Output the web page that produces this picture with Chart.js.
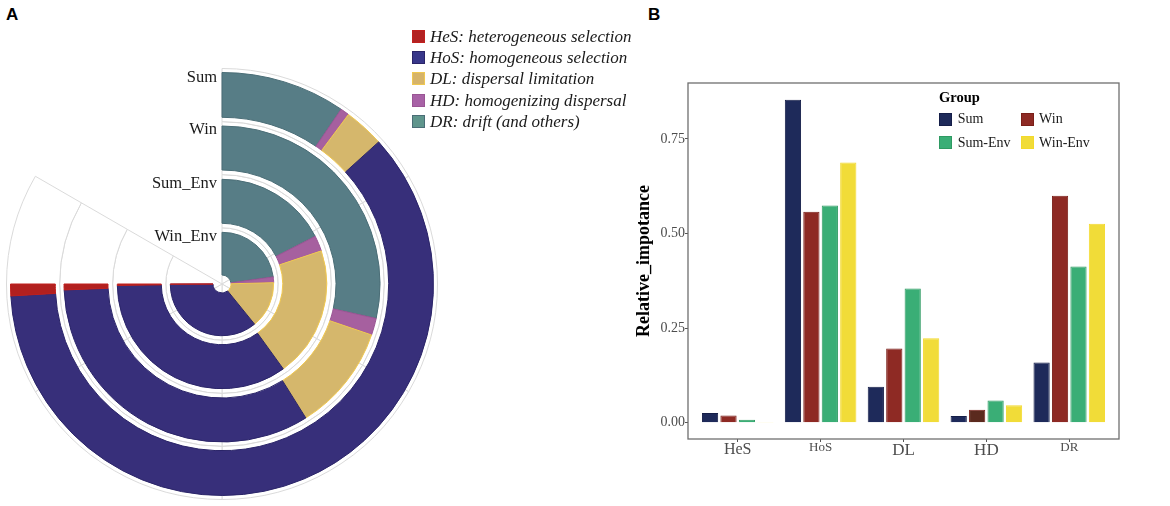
<!DOCTYPE html>
<html>
<head>
<meta charset="utf-8">
<script src="https://cdn.jsdelivr.net/npm/chart.js@4.4.0/dist/chart.umd.min.js"></script>
<style>
  body { margin: 0; background: #fff; }
  #pagina { position: relative; width: 1170px; height: 506px; overflow: hidden; font-family: "Liberation Serif", "Times New Roman", serif; color: #1a1a1a; }
  .lettera { position: absolute; font: bold 17px "Liberation Sans", Arial, sans-serif; line-height: 17px; color: #000; }
  .anello { position: absolute; width: 120px; text-align: right; font-size: 16.5px; line-height: 18px; }
  .voce { position: absolute; white-space: nowrap; }
  .quadrato { position: absolute; box-sizing: border-box; }
  canvas { position: absolute; }
</style>
</head>
<body>
<div id="pagina">
  <div class="lettera" style="left:6px;top:6px">A</div>
  <div class="lettera" style="left:648px;top:6px">B</div>
  <canvas id="griglia" width="432" height="432" style="left:6px;top:68px"></canvas>
  <canvas id="anelli" width="424" height="424" style="left:10px;top:72px"></canvas>
  <canvas id="barre" width="570" height="506" style="left:600px;top:0"></canvas>
  <div id="etichetteA"></div>
  <div id="legendaA"></div>
  <div id="legendaB"></div>
</div>

<script>
const anelli = ['Sum', 'Win', 'Sum_Env', 'Win_Env'];
const componenti = ['DR', 'HD', 'DL', 'HoS', 'HeS'];
const quotaSum = [0.127, 0.009, 0.041, 0.811, 0.012];
const quotaWin = [0.380, 0.023, 0.145, 0.444, 0.008];
const quotaSumEnv = [0.233, 0.032, 0.269, 0.463, 0.003];
const quotaWinEnv = [0.304, 0.024, 0.194, 0.477, 0.001];

// Legenda del pannello A
const ordineLegendaA = ['HeS', 'HoS', 'DL', 'HD', 'DR'];
const descrizioniA = ['HeS: heterogeneous selection', 'HoS: homogeneous selection', 'DL: dispersal limitation', 'HD: homogenizing dispersal', 'DR: drift (and others)'];

// ---- Pannello B: importanza relativa per gruppo ----
const categorie = ['HeS', 'HoS', 'DL', 'HD', 'DR'];
const gruppi = ['Sum', 'Win', 'Sum-Env', 'Win-Env'];
const valSum = [0.026, 0.854, 0.095, 0.018, 0.159];
const valWin = [0.019, 0.558, 0.196, 0.034, 0.600];
const valSumEnv = [0.008, 0.574, 0.355, 0.059, 0.413];
const valWinEnv = [0.002, 0.688, 0.223, 0.046, 0.526];
const tickY = [0, 0.25, 0.5, 0.75];

// Colori
const coloriA = ['#577d86', '#a6609f', '#d5b76c', '#372f7a', '#b2201f'];
const bordiA = ['#4a6d76', '#9a5594', '#f0c850', '#2a2468', '#c0201e'];
const coloriLegA = ['#5f958c', '#a862a6', '#d6b46a', '#38378a', '#b22222'];
const coloriB = ['#1e2a5a', '#8e2a24', '#3aae76', '#f1dc38'];
const bordiB = ['#151e48', '#7a1f18', '#2e9a62', '#f3d92c'];

// Griglia polare di sfondo: 5 settori da 60 gradi per ogni anello
const settori = [1, 1, 1, 1, 1];
const pesiGriglia = [53.1, 53, 53.2, 56.2];
const grafGriglia = new Chart(document.getElementById('griglia'), {
	type: 'doughnut',
	data: {
		labels: settori.map((s, i) => 's' + i),
		datasets: pesiGriglia.map(p => ({
			data: settori,
			weight: p,
			backgroundColor: '#ffffff',
			borderColor: '#dadada',
			borderWidth: 1,
			hoverBorderWidth: 1,
			circumference: 300
		}))
	},
	options: {
		responsive: false,
		animation: false,
		cutout: 0,
		radius: 215.5,
		events: [],
		plugins: { legend: { display: false }, tooltip: { enabled: false } }
	}
});

// Anelli con i dati: tra un anello e l'altro uno spazio trasparente
const quote = [quotaSum, quotaWin, quotaSumEnv, quotaWinEnv];
const spessori = [44.8, 44, 44, 42.7];
const spazi = [8.7, 9.3, 9];
const datasetsA = [];
quote.forEach((q, k) => {
	datasetsA.push({
		label: anelli[k],
		data: q,
		weight: spessori[k],
		backgroundColor: coloriA,
		borderColor: bordiA,
		borderWidth: 1,
		hoverBorderWidth: 1,
		circumference: 270
	});
	if (k < spazi.length) {
		datasetsA.push({
			label: '',
			data: [1],
			weight: spazi[k],
			backgroundColor: 'rgba(0,0,0,0)',
			borderWidth: 0,
			hoverBorderWidth: 0,
			circumference: 270
		});
	}
});
const grafAnelli = new Chart(document.getElementById('anelli'), {
	type: 'doughnut',
	data: { labels: componenti, datasets: datasetsA },
	options: {
		responsive: false,
		animation: false,
		cutout: 9,
		radius: 211.5,
		events: [],
		plugins: { legend: { display: false }, tooltip: { enabled: false } }
	}
});

// Nomi degli anelli
const yAnelli = [77, 129, 183, 236];
let htmlAnelli = '';
anelli.forEach((a, k) => {
	htmlAnelli += `<div class="anello" style="left:97px;top:${yAnelli[k] - 9}px">${a}</div>`;
});
document.getElementById('etichetteA').innerHTML = htmlAnelli;

// Legenda A
let htmlLegA = '';
ordineLegendaA.forEach((nome, r) => {
	const i = componenti.indexOf(nome);
	const yc = 36.7 + r * 21.1;
	htmlLegA += `<div class="quadrato" style="left:412px;top:${yc - 6.5}px;width:13px;height:13px;background:${coloriLegA[i]};border:1px solid ${bordiA[i]}"></div>`;
	htmlLegA += `<div class="voce" style="left:430px;top:${yc - 9.5}px;font-size:17px;line-height:19px;font-style:italic">${descrizioniA[r]}</div>`;
});
document.getElementById('legendaA').innerHTML = htmlLegA;

// Cornice attorno all'area del grafico a barre
const cornice = {
	id: 'cornice',
	afterDraw(chart) {
		const { ctx, chartArea: a } = chart;
		ctx.save();
		ctx.strokeStyle = '#6f6f6f';
		ctx.lineWidth = 1.3;
		ctx.strokeRect(a.left, a.top, a.right - a.left, a.bottom - a.top);
		ctx.restore();
	}
};

// Grafico a barre raggruppate
const serieB = [valSum, valWin, valSumEnv, valWinEnv];
const dimX = [16, 13, 17, 17, 13];
const grafBarre = new Chart(document.getElementById('barre'), {
	type: 'bar',
	data: {
		datasets: serieB.map((s, k) => ({
			label: gruppi[k],
			data: s.map((v, i) => ({ x: i, y: v })),
			backgroundColor: k === 1 ? s.map((v, i) => categorie[i] === 'HD' ? '#5b2a1e' : coloriB[1]) : coloriB[k],
			borderColor: bordiB[k],
			borderWidth: 1,
			categoryPercentage: 0.89,
			barPercentage: 0.88
		}))
	},
	options: {
		responsive: false,
		animation: false,
		events: [],
		layout: { padding: { top: 83, right: 51, bottom: 37, left: 0 } },
		plugins: { legend: { display: false }, tooltip: { enabled: false } },
		scales: {
			x: {
				type: 'linear',
				min: -0.6,
				max: 4.6,
				offset: false,
				afterFit: s => { s.height = 30; },
				afterBuildTicks: s => { s.ticks = categorie.map((c, i) => ({ value: i })); },
				grid: { offset: false, drawOnChartArea: false, tickLength: 3, color: '#555' },
				border: { display: false },
				ticks: {
					padding: -2,
					color: '#4d4d4d',
					font: c => ({ family: 'Liberation Serif', size: dimX[c.index] || 16 }),
					callback: v => categorie[v] || ''
				}
			},
			y: {
				min: -0.043,
				max: 0.898,
				afterFit: s => { s.width = 88; },
				afterBuildTicks: s => { s.ticks = tickY.map(v => ({ value: v })); },
				grid: { drawOnChartArea: false, tickLength: 3, color: '#555' },
				border: { display: false },
				ticks: {
					padding: 0,
					color: '#4d4d4d',
					font: { family: 'Liberation Serif', size: 14 },
					callback: v => v.toFixed(2)
				},
				title: {
					display: true,
					text: 'Relative_impotance',
					color: '#000',
					padding: { top: 34, bottom: 0 },
					font: { family: 'Liberation Serif', size: 18, weight: 'bold' }
				}
			}
		}
	},
	plugins: [cornice]
});

// Legenda B
const posLegB = [[939.3, 112.7], [1020.7, 112.7], [939.3, 136], [1020.7, 136]];
let htmlLegB = '<div class="voce" style="left:939px;top:89px;font-size:14.5px;line-height:17px;font-weight:bold;color:#000">Group</div>';
gruppi.forEach((g, k) => {
	const [x, y] = posLegB[k];
	htmlLegB += `<div class="quadrato" style="left:${x}px;top:${y}px;width:13px;height:13px;background:${coloriB[k]};border:1px solid ${bordiB[k]}"></div>`;
	htmlLegB += `<div class="voce" style="left:${x + 18.4}px;top:${y - 1.5}px;font-size:14px;line-height:16px">${g}</div>`;
});
document.getElementById('legendaB').innerHTML = htmlLegB;
</script>
</body>
</html>
